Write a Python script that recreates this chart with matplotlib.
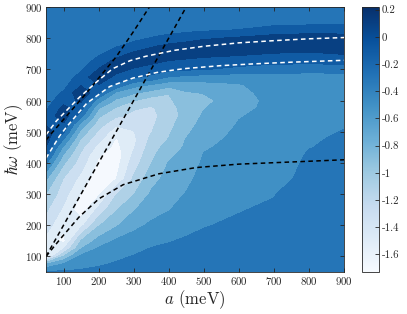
import numpy as np
import matplotlib
matplotlib.use("Agg")
import matplotlib.pyplot as plt
from matplotlib.colors import Normalize
from matplotlib.cm import ScalarMappable
from matplotlib.ticker import FixedLocator, FixedFormatter

plt.rcParams["font.family"] = "serif"
plt.rcParams["font.serif"] = ["cmr10"]
plt.rcParams["mathtext.fontset"] = "cm"
plt.rcParams["axes.unicode_minus"] = False
plt.rcParams["axes.formatter.use_mathtext"] = True

# grid of the map (meV)
a_vals = [50, 100, 150, 200, 250, 300, 350, 400, 450, 500, 600, 700, 750, 800, 900]
w_vals = [50, 75, 100, 125, 150, 200, 250, 300, 350, 400, 425, 450, 475, 500, 525,
          550, 575, 600, 625, 650, 675, 700, 725, 750, 775, 800, 825, 850, 900]

# one column per a value, going up in hbar*omega
z_a050 = [-0.36, -0.80, -1.68, -1.56, -1.47, -1.31, -1.17, -1.01, -0.77, -0.37, -0.13, -0.01, 0.10, 0.09, -0.02,
          -0.13, -0.23, -0.30, -0.30, -0.30, -0.30, -0.30, -0.30, -0.30, -0.30, -0.30, -0.30, -0.30, -0.30]
z_a100 = [-0.37, -0.57, -0.99, -1.43, -1.66, -1.57, -1.44, -1.32, -1.21, -0.97, -0.83, -0.64, -0.41, -0.16, -0.02,
          0.12, 0.06, -0.07, -0.18, -0.27, -0.30, -0.30, -0.30, -0.30, -0.30, -0.30, -0.30, -0.30, -0.30]
z_a150 = [-0.37, -0.46, -0.55, -0.81, -0.99, -1.47, -1.72, -1.61, -1.46, -1.31, -1.24, -1.15, -1.03, -0.87, -0.65,
          -0.33, -0.12, 0.03, 0.16, -0.01, -0.13, -0.23, -0.30, -0.30, -0.30, -0.30, -0.30, -0.30, -0.30]
z_a200 = [-0.35, -0.42, -0.49, -0.57, -0.73, -1.02, -1.34, -1.64, -1.74, -1.64, -1.58, -1.47, -1.35, -1.23, -1.10,
          -0.97, -0.79, -0.52, -0.17, -0.01, 0.17, 0.01, -0.12, -0.23, -0.30, -0.30, -0.30, -0.30, -0.30]
z_a250 = [-0.33, -0.38, -0.44, -0.51, -0.57, -0.83, -1.02, -1.21, -1.61, -1.69, -1.72, -1.66, -1.62, -1.51, -1.36,
          -1.17, -1.03, -0.84, -0.64, -0.24, -0.07, 0.10, 0.07, -0.09, -0.22, -0.30, -0.30, -0.30, -0.30]
z_a300 = [-0.31, -0.36, -0.39, -0.46, -0.52, -0.65, -0.82, -1.01, -1.17, -1.30, -1.36, -1.42, -1.45, -1.41, -1.33,
          -1.26, -1.18, -0.99, -0.77, -0.52, -0.16, -0.03, 0.14, 0.04, -0.13, -0.25, -0.30, -0.30, -0.30]
z_a350 = [-0.30, -0.32, -0.36, -0.39, -0.46, -0.57, -0.67, -0.77, -0.88, -1.01, -1.05, -1.10, -1.15, -1.21, -1.24,
          -1.27, -1.23, -1.11, -0.87, -0.62, -0.25, -0.09, 0.05, 0.13, -0.03, -0.19, -0.28, -0.30, -0.30]
z_a400 = [-0.30, -0.31, -0.33, -0.37, -0.41, -0.51, -0.61, -0.67, -0.73, -0.79, -0.84, -0.91, -0.99, -1.03, -1.06,
          -1.09, -1.08, -1.04, -0.99, -0.72, -0.41, -0.14, -0.02, 0.14, 0.05, -0.14, -0.26, -0.30, -0.30]
z_a450 = [-0.30, -0.30, -0.32, -0.35, -0.38, -0.45, -0.52, -0.59, -0.65, -0.71, -0.74, -0.77, -0.79, -0.84, -0.89,
          -0.93, -0.92, -0.87, -0.82, -0.70, -0.46, -0.17, -0.05, 0.10, 0.09, -0.09, -0.24, -0.30, -0.30]
z_a500 = [-0.30, -0.30, -0.31, -0.33, -0.36, -0.41, -0.45, -0.49, -0.53, -0.57, -0.59, -0.62, -0.66, -0.69, -0.73,
          -0.77, -0.81, -0.85, -0.79, -0.67, -0.49, -0.19, -0.07, 0.06, 0.14, -0.03, -0.22, -0.30, -0.30]
z_a600 = [-0.30, -0.30, -0.30, -0.31, -0.33, -0.37, -0.41, -0.44, -0.48, -0.51, -0.52, -0.54, -0.55, -0.57, -0.59,
          -0.61, -0.65, -0.69, -0.66, -0.62, -0.51, -0.26, -0.10, 0.03, 0.18, 0.03, -0.19, -0.28, -0.30]
z_a700 = [-0.30, -0.30, -0.30, -0.30, -0.31, -0.33, -0.37, -0.41, -0.44, -0.48, -0.50, -0.51, -0.53, -0.55, -0.55,
          -0.55, -0.55, -0.54, -0.52, -0.49, -0.45, -0.34, -0.13, -0.01, 0.13, 0.09, -0.11, -0.26, -0.30]
z_a750 = [-0.30, -0.30, -0.30, -0.30, -0.30, -0.30, -0.30, -0.33, -0.41, -0.46, -0.48, -0.50, -0.52, -0.53, -0.54,
          -0.54, -0.54, -0.53, -0.51, -0.49, -0.45, -0.35, -0.13, -0.02, 0.12, 0.10, -0.10, -0.26, -0.30]
z_a800 = [-0.30, -0.30, -0.30, -0.30, -0.30, -0.30, -0.30, -0.30, -0.30, -0.34, -0.37, -0.41, -0.43, -0.46, -0.48,
          -0.50, -0.51, -0.52, -0.51, -0.49, -0.45, -0.36, -0.14, -0.03, 0.11, 0.11, -0.08, -0.25, -0.30]
z_a900 = [-0.30, -0.30, -0.30, -0.30, -0.30, -0.30, -0.30, -0.30, -0.30, -0.30, -0.32, -0.34, -0.36, -0.39, -0.42,
          -0.45, -0.48, -0.50, -0.50, -0.48, -0.45, -0.35, -0.11, 0.01, 0.14, 0.10, -0.09, -0.24, -0.30]

# dashed guide curves
line_a_x = [50, 69, 164, 250, 300, 345]
line_a_y = [473, 499, 622, 740, 822, 900]
line_b_x = [50, 450]
line_b_y = [100, 900]
line_c_x = [50, 90, 144, 201, 270, 372, 478, 600, 774, 900]
line_c_y = [100, 155, 226, 285, 330, 365, 385, 396, 404, 410]
white1_x = [50, 80, 145, 200, 240, 290, 335, 416, 500, 600, 700, 800, 900]
white1_y = [490, 535, 610, 665, 702, 728, 742, 761, 774, 785, 792, 798, 802]
white2_x = [50, 88, 109, 166, 232, 298, 366, 415, 451, 550, 650, 750, 900]
white2_y = [415, 485, 516, 591, 645, 672, 690, 698, 703, 712, 718, 723, 729]

levels = [-1.8, -1.6, -1.4, -1.2, -1.0, -0.8, -0.6, -0.4, -0.2, 0.0, 0.2]
cb_ticks = [-1.6, -1.4, -1.2, -1.0, -0.8, -0.6, -0.4, -0.2, 0.0, 0.2]
cb_labels = ["-1.6", "-1.4", "-1.2", "-1", "-0.8", "-0.6", "-0.4", "-0.2", "0", "0.2"]
ax_ticks = [100, 200, 300, 400, 500, 600, 700, 800, 900]

txt = "#262626"
W, H = 407, 314

fig = plt.figure(figsize=(W / 100, H / 100), dpi=100)
ax = fig.add_axes([46 / W, 1 - 272 / H, 298 / W, 265 / H])
cax = fig.add_axes([362 / W, 1 - 272 / H, 17 / W, 265 / H])

Z = np.array([z_a050, z_a100, z_a150, z_a200, z_a250, z_a300, z_a350, z_a400,
              z_a450, z_a500, z_a600, z_a700, z_a750, z_a800, z_a900]).T
norm = Normalize(vmin=-1.73, vmax=0.22)
ax.contourf(a_vals, w_vals, Z, levels=levels, cmap="Blues", norm=norm)

dash = (0, (3.0, 2.2))
ax.plot(line_a_x, line_a_y, color="k", lw=1.1, ls=dash)
ax.plot(line_b_x, line_b_y, color="k", lw=1.1, ls=dash)
ax.plot(line_c_x, line_c_y, color="k", lw=1.1, ls=dash)
ax.plot(white1_x, white1_y, color="white", lw=1.1, ls=dash)
ax.plot(white2_x, white2_y, color="white", lw=1.1, ls=dash)

ax.set_xlim(50, 900)
ax.set_ylim(50, 900)
ax.set_xticks(ax_ticks)
ax.set_yticks(ax_ticks)
ax.tick_params(direction="in", length=3, width=0.6, top=True, right=True,
               labelsize=7.8, colors=txt, pad=2)
for s in ax.spines.values():
    s.set_color(txt)
    s.set_linewidth(0.6)
ax.set_xlabel(r"$a$ (meV)", fontsize=12, color=txt, labelpad=1)
ax.set_ylabel(r"$\hbar\omega$ (meV)", fontsize=12, color=txt, labelpad=0)

sm = ScalarMappable(norm=norm, cmap="Blues")
cb = fig.colorbar(sm, cax=cax)
cb.ax.yaxis.set_major_locator(FixedLocator(cb_ticks))
cb.ax.yaxis.set_major_formatter(FixedFormatter(cb_labels))
cb.ax.tick_params(direction="in", length=3, width=0.6, labelsize=7.8, colors=txt, pad=2)
cb.outline.set_edgecolor(txt)
cb.outline.set_linewidth(0.6)

fig.savefig("out.png", dpi=100)
